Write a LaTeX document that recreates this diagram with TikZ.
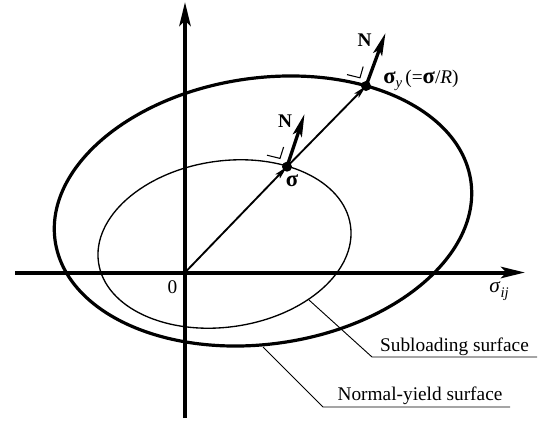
\documentclass[tikz,border=0pt]{standalone}
\usepackage{fontspec}
\setmainfont{Liberation Serif}
\usetikzlibrary{arrows.meta}
\begin{document}
\begin{tikzpicture}[x=0.75pt,y=-0.75pt,
  axisline/.style={line width=3pt,-{Stealth[length=18pt,width=8.5pt,inset=4pt]}},
  vecline/.style={line width=1.4pt,-{Stealth[length=10pt,width=4.5pt,inset=2pt]}},
  normline/.style={line width=2.5pt,-{Stealth[length=17pt,width=7pt,inset=3.5pt]}},
  dotmark/.style={circle,fill=black,inner sep=0pt,minimum size=7.5pt},
  lbl/.style={inner sep=0pt,font=\fontsize{14.5}{17}\selectfont},
  leader/.style={line width=0.7pt},
  ramark/.style={line width=0.8pt}]
\useasboundingbox (0,0) rectangle (540,421);
\newcommand{\bsig}{{\fontsize{17}{18}\selectfont\bfseries σ}}
% axes
\coordinate (O) at (185,272.5);
\coordinate (xl) at (15,272.5);
\coordinate (xr) at (525,272.5);
\coordinate (yb) at (185,418);
\coordinate (yt) at (185,2);
\draw[axisline] (xl) -- (xr);
\draw[axisline] (yb) -- (yt);
% surfaces
\draw[line width=2.4pt, rotate around={8.2:(263,211)}] (263,211) ellipse [x radius=157.5pt, y radius=99.75pt];
\draw[line width=1pt, rotate around={8.5:(224.5,244)}] (224.5,244) ellipse [x radius=95.5pt, y radius=62.25pt];
% stress points
\node[dotmark] (S) at (287,166.7) {};
\node[dotmark] (SY) at (366,86) {};
\coordinate (Nt1) at (304.5,114);
\coordinate (Nt2) at (385.5,33);
\draw[vecline] (O) -- (S.center);
\draw[vecline] (S.center) -- (SY.center);
\draw[normline] (S.center) -- (Nt1);
\draw[normline] (SY.center) -- (Nt2);
% right-angle marks
\coordinate (r1a) at (267,155.2);
\coordinate (r1b) at (280,158.4);
\coordinate (r1c) at (283.6,147);
\coordinate (r2a) at (347,74.6);
\coordinate (r2b) at (360,77.8);
\coordinate (r2c) at (363.2,66.5);
\draw[ramark] (r1a) -- (r1b) -- (r1c);
\draw[ramark] (r2a) -- (r2b) -- (r2c);
% labels
\node[lbl] (N1) at (285,121) {\textbf{N}};
\node[lbl] (N2) at (364.5,40.5) {\textbf{N}};
\node[lbl] (sig) at (292,181) {\bsig};
\node[lbl,anchor=west] (sigy) at (383,80.5) {\bsig\raisebox{-0.45ex}{\fontsize{11}{12}\selectfont\itshape y}\,(=\bsig/\textit{R})};
\node[lbl] (zero) at (172.5,287) {0};
\node[lbl,font=\fontsize{16}{18}\selectfont] (sij) at (499,291) {\textit{σ}\raisebox{-0.5ex}{\fontsize{11}{12}\selectfont\itshape ij}};
% leaders
\node[lbl,anchor=base] (sub) at (454.5,351) {Subloading surface};
\node[lbl,anchor=base] (nys) at (420,400) {Normal-yield surface};
\coordinate (p1) at (309,300);
\coordinate (p1b) at (372,357);
\coordinate (p1e) at (537,357);
\coordinate (p2) at (263,347);
\coordinate (p2b) at (323,407);
\coordinate (p2e) at (510,407);
\draw[leader] (p1) -- (p1b) -- (p1e);
\draw[leader] (p2) -- (p2b) -- (p2e);
\end{tikzpicture}
\end{document}
